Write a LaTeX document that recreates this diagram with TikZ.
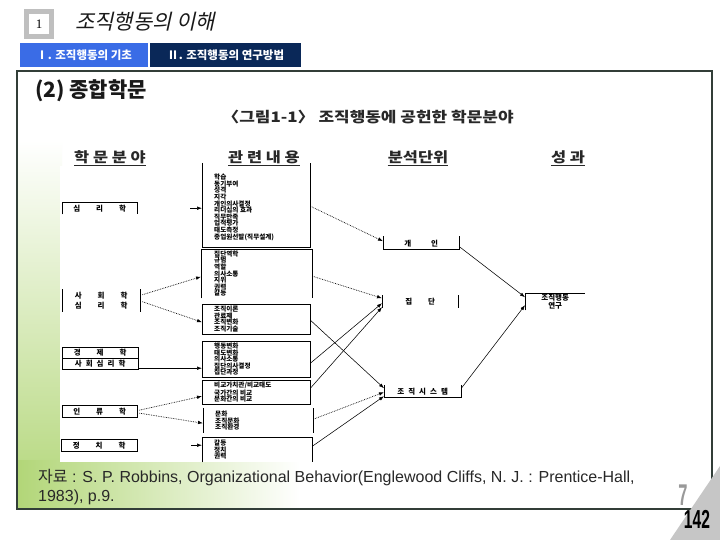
\documentclass[tikz,border=0pt]{standalone}
\usepackage{fontspec}
\setmainfont{Liberation Sans}
\newfontfamily\kr{Noto Sans CJK KR}
\newfontfamily\krit[FakeSlant=0.22]{Noto Sans CJK KR}
\newfontfamily\serifnum{Liberation Serif}
\usetikzlibrary{arrows.meta,calc}
\definecolor{tabblue}{RGB}{58,108,230}
\definecolor{tabnavy}{RGB}{10,40,88}
\definecolor{framec}{RGB}{50,62,56}
\definecolor{leaf}{RGB}{178,214,120}
\definecolor{txtdark}{RGB}{40,40,40}
\newcommand\kg[1]{\hspace{#1pt}}
\newcommand\wide[1]{\scalebox{1.17}[1]{#1}}
\tikzset{
 box/.style={draw=none,inner sep=0pt,anchor=north west},
 lst/.style={font=\kr\bfseries\fontsize{6.6}{6.6}\selectfont,align=left,anchor=west,inner sep=0pt},
 lab/.style={font=\kr\bfseries\fontsize{7.5}{10.5}\selectfont,inner sep=0pt,align=center},
 bx/.style={line width=0.8pt,black},
 dl/.style={densely dotted,line width=0.7pt,-{Latex[length=5pt,width=3.6pt]}},
 sl/.style={line width=0.55pt,-{Latex[length=5pt,width=3.6pt]}},
 head/.style={font=\kr\bfseries\fontsize{14}{16}\selectfont,text=txtdark,inner sep=0pt},
 uline/.style={txtdark,line width=0.7pt},
 srcline/.style={anchor=west,font=\fontsize{16}{19}\selectfont,text=txtdark,inner sep=0pt},
}
\begin{document}
\begin{tikzpicture}[x=1pt,y=-1pt]
\useasboundingbox (0,0) rectangle (720,540);
% background
\fill[white] (0,0) rectangle (720,540);
\shade[top color=white,bottom color=leaf] (18,140) rectangle (62,508);
\shade[left color=leaf,right color=white] (18,460) rectangle (300,508);
\fill[white] (60,166) rectangle (682,462);
% header
\fill[gray!50] (24,9) rectangle (54,39);
\fill[white] (29,14) rectangle (49,34);
\node[font=\serifnum\fontsize{13}{13}\selectfont,inner sep=0pt] (num) at (39,24.5) {1};
\node[font=\krit\fontsize{21}{24}\selectfont,text=black!90,anchor=west,inner sep=0pt] (title) at (75,22) {조직행동의 이해};
\node[fill=tabblue,minimum width=128pt,minimum height=24pt,anchor=north west,inner sep=0pt,text=white,font=\kr\bfseries\fontsize{11.5}{12}\selectfont] (tab1) at (20,43) {Ⅰ. 조직행동의 기초};
\node[fill=tabnavy,minimum width=151pt,minimum height=24pt,anchor=north west,inner sep=0pt,text=white,font=\kr\bfseries\fontsize{11.5}{12}\selectfont] (tab2) at (150,43) {Ⅱ. 조직행동의 연구방법};
% frame
\draw[framec,line width=1.8pt] (17,71) rectangle (712,509);
\node[anchor=west,font=\kr\bfseries\fontsize{21}{22}\selectfont,inner sep=0pt,text=black!90] (sub) at (35,91) {(2) 종합학문};
\node[font=\kr\bfseries\fontsize{14.5}{16}\selectfont,text=txtdark,inner sep=0pt] (cap) at (368,117) {\wide{〈그림1-1〉 조직행동에 공헌한 학문분야}};
% column headings
\node[head] (h1) at (110,157) {\wide{학 문 분 야}};
\node[head] (h2) at (264,157) {\wide{관 련 내 용}};
\node[head] (h3) at (418,157) {\wide{분석단위}};
\node[head] (h4) at (568,157) {\wide{성 과}};
\foreach \h in {h1,h2,h3,h4}{\draw[uline] ($(\h.south west)+(0,2)$) -- ($(\h.south east)+(0,2)$);}
% left boxes
\node[box,minimum width=75pt,minimum height=12pt] (l1) at (62,202) {};
\draw[bx] (l1.south west) -- (l1.north west) -- (l1.north east) -- (l1.south east);
\node[lab] at (l1.center) {심\kg{16}리\kg{16}학};
\node[box,minimum width=78pt,minimum height=23pt] (l2) at (62,289) {};
\draw[bx] (l2.north west) -- (l2.south west) (l2.north east) -- (l2.south east);
\node[lab] at (l2.center) {사\kg{16}회\kg{16}학\\심\kg{16}리\kg{16}학};
\node[box,minimum width=76pt,minimum height=22pt] (l3) at (62,347) {};
\draw[bx] (l3.north west) rectangle (l3.south east) (l3.west) -- (l3.east);
\node[lab] at ($(l3.center)+(0,-5.5)$) {경\kg{16}제\kg{16}학};
\node[lab] at ($(l3.center)+(0,5.5)$) {사\kg{4}회\kg{4}심\kg{4}리\kg{4}학};
\node[box,minimum width=75pt,minimum height=12pt] (l4) at (62,405) {};
\draw[bx] (l4.north west) rectangle (l4.south east);
\node[lab] at (l4.center) {인\kg{16}류\kg{16}학};
\node[box,minimum width=76pt,minimum height=12pt] (l5) at (61,439) {};
\draw[bx] (l5.north west) rectangle (l5.south east);
\node[lab] at (l5.center) {정\kg{16}치\kg{16}학};
% middle boxes
\node[box,minimum width=108pt,minimum height=84pt] (m1) at (202,163) {};
\draw[bx] (m1.north west) -- (m1.south west) -- (m1.south east) -- (m1.north east);
\node[lst] at ($(m1.west)+(12,2)$) {학습\\동기부여\\성격\\지각\\개인의사결정\\리더십의 효과\\직무만족\\업적평가\\태도측정\\종업원선발(직무설계)};
\node[box,minimum width=111pt,minimum height=49pt] (m2) at (201,249) {};
\draw[bx] (m2.south west) -- (m2.north west) -- (m2.north east) -- (m2.south east);
\node[lst] at ($(m2.west)+(13,0)$) {집단역학\\규범\\역할\\의사소통\\지위\\권력\\갈등};
\node[box,minimum width=108pt,minimum height=30pt] (m3) at (202,304) {};
\draw[bx] (m3.north west) rectangle (m3.south east);
\node[lst] at ($(m3.west)+(12,0)$) {조직이론\\관료제\\조직변화\\조직기술};
\node[box,minimum width=108pt,minimum height=36pt] (m4) at (202,341) {};
\draw[bx] (m4.north west) rectangle (m4.south east);
\node[lst] at ($(m4.west)+(12,0)$) {행동변화\\태도변화\\의사소통\\집단의사결정\\집단과정};
\node[box,minimum width=108pt,minimum height=24pt] (m5) at (202,380) {};
\draw[bx] (m5.north west) rectangle (m5.south east);
\node[lst] at ($(m5.west)+(12,0)$) {비교가치관/비교태도\\국가간의 비교\\문화간의 비교};
\node[box,minimum width=110pt,minimum height=25pt] (m6) at (203,408) {};
\draw[bx] (m6.north west) -- (m6.south west) (m6.north east) -- (m6.south east);
\node[lst] at ($(m6.west)+(12,0)$) {문화\\조직문화\\조직환경};
\node[box,minimum width=110pt,minimum height=25pt] (m7) at (202,437) {};
\draw[bx] (m7.south west) -- (m7.north west) -- (m7.north east) -- (m7.south east);
\node[lst] at ($(m7.west)+(12,0)$) {갈등\\정치\\권력};
% unit boxes
\node[box,minimum width=76pt,minimum height=13pt] (u1) at (383,236) {};
\draw[bx] (u1.north west) -- (u1.south west) -- (u1.south east) -- (u1.north east);
\node[lab] at ($(u1.center)+(0,1)$) {개\kg{20}인};
\node[box,minimum width=76pt,minimum height=13pt] (u2) at (382,295) {};
\draw[bx] (u2.north west) -- (u2.south west) (u2.north east) -- (u2.south east);
\node[lab] at (u2.center) {집\kg{16}단};
\node[box,minimum width=77pt,minimum height=12pt] (u3) at (384,385) {};
\draw[bx] (u3.north west) -- (u3.south west) -- (u3.south east) -- (u3.north east);
\node[lab] at (u3.center) {조\kg{4}직\kg{4}시\kg{4}스\kg{4}템};
\node[box,minimum width=60pt,minimum height=17pt] (o) at (525,293) {};
\draw[bx] (o.south west) -- (o.north west) -- (o.north east);
\node[lab,font=\kr\bfseries\fontsize{7.5}{7.5}\selectfont] at (o.center) {조직행동\\연구};
% arrows: disciplines -> topics
\coordinate (s1) at ($(m1.west)+(-12,3)$);
\draw[sl] (s1) -- ($(m1.west)+(0,3)$);
\draw[dl] ($(l2.east)+(2,-6)$) -- ($(m2.west)+(0,3)$);
\draw[dl] ($(l2.east)+(2,1)$) -- ($(m3.west)+(0,3)$);
\draw[sl] ($(l3.east)+(0,10)$) -- ($(m4.west)+(0,9)$);
\draw[dl] ($(l4.east)+(2,-1)$) -- ($(m5.west)+(0,4)$);
\draw[dl] ($(l4.east)+(2,2)$) -- ($(m6.west)+(0,2.5)$);
\coordinate (s7) at ($(m7.west)+(-11,-4.5)$);
\draw[sl] (s7) -- ($(m7.west)+(0,-4.5)$);
% topics -> units
\draw[dl] ($(m1.east)+(0,1)$) -- ($(u1.west)+(0,-1.5)$);
\draw[dl] ($(m2.east)+(0,2.5)$) -- ($(u2.west)+(0,-3.5)$);
\draw[sl] ($(m3.east)+(0,1)$) -- ($(u3.west)+(0,-3)$);
\draw[sl] ($(m4.east)+(0,4)$) -- ($(u2.west)+(0,1.5)$);
\draw[sl] ($(m5.east)+(0,-4)$) -- ($(u2.west)+(0,5.5)$);
\draw[dl] ($(m6.east)+(0,-1.5)$) -- ($(u3.west)+(0,1)$);
\draw[sl] ($(m7.east)+(0,-3.5)$) -- ($(u3.west)+(0,5)$);
% units -> outcome
\draw[sl] ($(u1.east)+(0,4)$) -- ($(o.west)+(0,-4.5)$);
\draw[sl] ($(u3.east)+(0,-3)$) -- ($(o.west)+(0,3.5)$);
% source
\node[srcline] (src1) at (38,478) {{\kr 자료} : S. P. Robbins, Organizational Behavior(Englewood Cliffs, N. J. : Prentice-Hall,};
\node[srcline] (src2) at (38,497) {1983), p.9.};
% page number
\fill[gray!45] (670,540) -- (720,466) -- (720,540) -- cycle;
\node[font=\bfseries\fontsize{30}{30}\selectfont,text=gray!80,inner sep=0pt] (p7) at (683,495) {\scalebox{0.55}[1]{7}};
\node[font=\bfseries\fontsize{26}{26}\selectfont,text=black,inner sep=0pt] (p142) at (697,519) {\scalebox{0.6}[1]{142}};
\end{tikzpicture}
\end{document}
